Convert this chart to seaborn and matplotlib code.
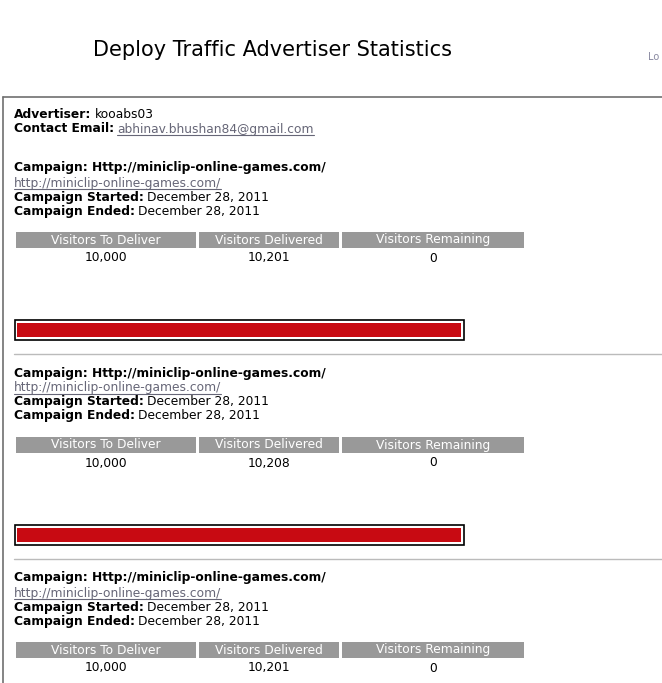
import matplotlib
matplotlib.use("Agg")
import matplotlib.pyplot as plt
import matplotlib.patches as mpatches
import seaborn as sns

sns.set_theme(style="white")
plt.rcParams['font.family'] = ['DejaVu Sans']
plt.rcParams['text.color'] = 'black'

advertiser = "kooabs03"
contact_email = "abhinav.bhushan84@gmail.com"
campaigns = ["Http://miniclip-online-games.com/"] * 3
urls = ["http://miniclip-online-games.com/"] * 3
started = ["December 28, 2011"] * 3
ended = ["December 28, 2011"] * 3
to_deliver = [10000, 10000, 10000]
delivered = [10201, 10208, 10201]
remaining = [0, 0, 0]
headers = ["Visitors To Deliver", "Visitors Delivered", "Visitors Remaining"]

fig = plt.figure(figsize=(6.62, 6.83), dpi=100)
ax = fig.add_axes([0, 0, 1, 1])
ax.set_xlim(0, 662)
ax.set_ylim(683, 0)
ax.axis("off")
fig.canvas.draw()
renderer = fig.canvas.get_renderer()

FS = 8.8


def label_value(x, y, label, value, color="black", underline=False):
    t = ax.text(x, y, label, fontsize=FS, fontweight="bold", va="center")
    bb = t.get_window_extent(renderer)
    x2 = x + bb.width + 3
    v = ax.text(x2, y, value, fontsize=FS, va="center", color=color)
    if underline:
        vb = v.get_window_extent(renderer)
        ax.plot([x2, x2 + vb.width], [y + 6, y + 6], color=color, lw=0.8)


ax.text(93, 50, "Deploy Traffic Advertiser Statistics", fontsize=15, va="center")
ax.text(648, 57, "Lo", fontsize=7, color="#8888a0", va="center")
ax.plot([3, 662], [97, 97], color="#707070", lw=1.2)
ax.plot([3, 3], [97, 683], color="#707070", lw=1.2)

label_value(14, 115, "Advertiser:", advertiser)
label_value(14, 129, "Contact Email:", contact_email, color="#666677", underline=True)

cols = [(16, 196), (199, 339), (342, 524)]
for i in range(len(campaigns)):
    o = 205 * i
    ax.text(14, 168 + o, "Campaign: " + campaigns[i], fontsize=FS, fontweight="bold", va="center")
    u = ax.text(14, 183 + o, urls[i], fontsize=FS, color="#666677", va="center")
    ub = u.get_window_extent(renderer)
    ax.plot([14, 14 + ub.width], [189 + o, 189 + o], color="#666677", lw=0.8)
    label_value(14, 197 + o, "Campaign Started:", started[i])
    label_value(14, 211 + o, "Campaign Ended:", ended[i])
    vals = [to_deliver[i], delivered[i], remaining[i]]
    for (x0, x1), h, v in zip(cols, headers, vals):
        ax.add_patch(mpatches.Rectangle((x0, 232 + o), x1 - x0, 16, color="#999999", lw=0))
        ax.text((x0 + x1) / 2, 240 + o, h, fontsize=FS, color="white", ha="center", va="center")
        ax.text((x0 + x1) / 2, 258 + o, f"{v:,}", fontsize=FS, ha="center", va="center")
    # progress bar
    ax.add_patch(mpatches.Rectangle((15, 320 + o), 449, 20, facecolor="white",
                                    edgecolor="black", lw=1.2))
    frac = min(delivered[i] / to_deliver[i], 1.0)
    ax.barh([330 + o], [444 * frac], left=17, height=14, color="#c80a12", linewidth=0)
    if i < len(campaigns) - 1:
        ax.plot([14, 662], [354 + o, 354 + o], color="#bbbbbb", lw=1)

fig.savefig("out.png", dpi=100)
